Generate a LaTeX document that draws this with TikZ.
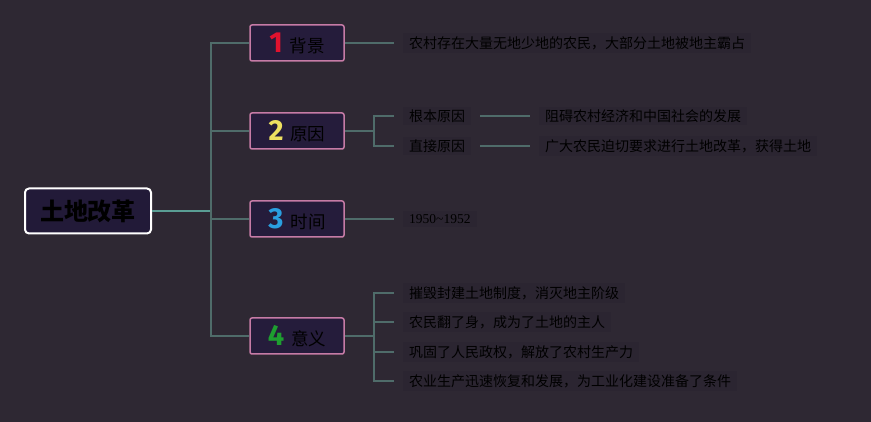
\documentclass[tikz,border=0pt]{standalone}
\usepackage{fontspec}
\setmainfont{Noto Sans CJK SC}
\newfontfamily\numfont{Fira Sans}
\newfontfamily\yearfont{Liberation Serif}
\usetikzlibrary{positioning}
\definecolor{bgA}{HTML}{2E2833}
\definecolor{leafA}{HTML}{2B2531}
\definecolor{boxA}{HTML}{251C3B}
\definecolor{rootA}{HTML}{221A38}
\definecolor{pinkA}{HTML}{C67BA6}
\definecolor{lineA}{HTML}{4F6C6A}
\definecolor{lineB}{HTML}{5A9E94}
\definecolor{redA}{HTML}{E0122E}
\definecolor{yellowA}{HTML}{EEE060}
\definecolor{blueA}{HTML}{2A9FE0}
\definecolor{greenA}{HTML}{1E9E30}
\newcommand{\tnum}[2]{{\numfont\bfseries\fontsize{29}{29}\selectfont\color{#1}#2}\hspace{7pt}}

\begin{document}
\begin{tikzpicture}[x=1pt, y=-1pt, font=\fontsize{14}{16}\selectfont,
  root/.style={draw=white, line width=2pt, rounded corners=4pt, fill=rootA, minimum width=126pt, minimum height=45pt, inner sep=0pt, font=\fontsize{24}{26}\selectfont\bfseries},
  topic/.style={draw=pinkA, line width=1.5pt, rounded corners=2pt, fill=boxA, minimum width=94pt, minimum height=36pt, inner sep=0pt, font=\fontsize{17.5}{18}\selectfont},
  leaf/.style={fill=leafA, anchor=west, inner xsep=6pt, inner ysep=3pt},
  link/.style={draw=lineA, line width=1.4pt}]
\fill[bgA] (0,0) rectangle (871,422);
% centre and topics
\node[root] (root) at (88,211) {土地改革};
\node[topic] (b1) at (297,43) {\tnum{redA}{1}背景};
\node[topic] (b2) at (297,131) {\tnum{yellowA}{2}原因};
\node[topic] (b3) at (297,219) {\tnum{blueA}{3}时间};
\node[topic] (b4) at (297,336) {\tnum{greenA}{4}意义};
% leaves
\node[leaf] (l1) at (403,43) {农村存在大量无地少地的农民，大部分土地被地主霸占};
\node[leaf] (c1) at (403,116) {根本原因};
\node[leaf] (c2) at (403,146) {直接原因};
\node[leaf] (d1) at (539,116) {阻碍农村经济和中国社会的发展};
\node[leaf] (d2) at (539,146) {广大农民迫切要求进行土地改革，获得土地};
\node[leaf, font=\yearfont\fontsize{13.5}{16}\selectfont] (l3) at (403,219) {1950\textasciitilde1952};
\node[leaf] (s1) at (403,293) {摧毁封建土地制度，消灭地主阶级};
\node[leaf] (s2) at (403,322) {农民翻了身，成为了土地的主人};
\node[leaf] (s3) at (403,352) {巩固了人民政权，解放了农村生产力};
\node[leaf] (s4) at (403,381) {农业生产迅速恢复和发展，为工业化建设准备了条件};
% joints
\coordinate (trunk) at (211,211);
\coordinate (k2) at (374,131);
\coordinate (k4) at (374,336);
% links
\draw[link, draw=lineB] (root.east) -- (trunk);
\foreach \b in {b1,b2,b3,b4}
  \draw[link] (trunk) |- (\b.west);
\draw[link] (b1.east) -- ([xshift=-9pt]l1.west);
\draw[link] (b2.east) -- (k2);
\draw[link] (k2) |- ([xshift=-9pt]c1.west);
\draw[link] (k2) |- ([xshift=-9pt]c2.west);
\draw[link] ([xshift=9pt]c1.east) -- ([xshift=-9pt]d1.west);
\draw[link] ([xshift=9pt]c2.east) -- ([xshift=-9pt]d2.west);
\draw[link] (b3.east) -- ([xshift=-9pt]l3.west);
\draw[link] (b4.east) -- (k4);
\foreach \s in {s1,s2,s3,s4}
  \draw[link] (k4) |- ([xshift=-9pt]\s.west);
\end{tikzpicture}
\end{document}
